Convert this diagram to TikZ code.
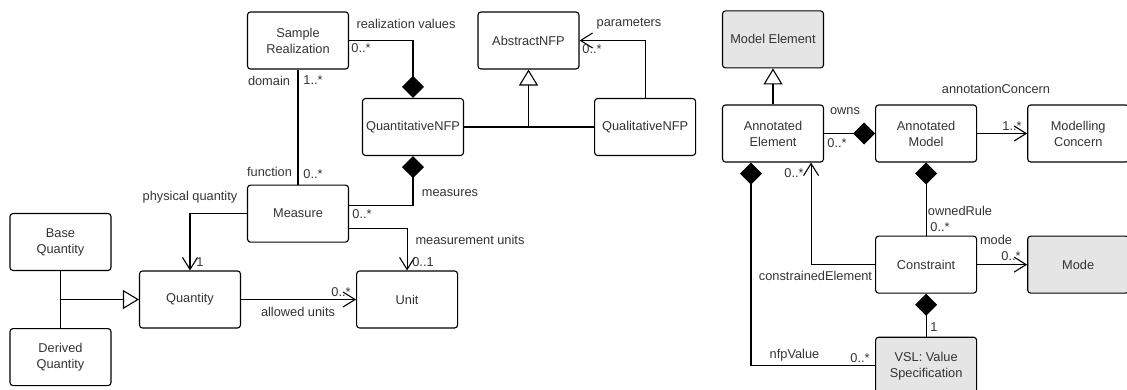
\documentclass[tikz,border=0pt]{standalone}
\usepackage{fontspec}
\setmainfont{Liberation Sans}
\usetikzlibrary{
	positioning,
	arrows.meta
}

\begin{document}
\begin{tikzpicture}[
			x=1pt, y=-1pt,
			line width=1.1pt,
			font=\fontsize{12.8pt}{16pt}\selectfont,
			cls/.style={
				draw,
				rounded corners=3pt,
				minimum width=101pt,
				minimum height=57pt,
				inner sep=2pt,
				text=black!80,
				align=center
			},
			ext/.style={cls, fill=black!10},
			lbl/.style={inner sep=0pt, text=black!80},
			compo/.style={{Diamond[length=22pt,width=22pt]}-},
			assoc/.style={-{Straight Barb[length=12pt,width=15pt]}},
			inherit/.style={-{Triangle[length=16pt,width=19pt,fill=white]}}
			]
			
			\useasboundingbox (0,0) rectangle (1127,389);
			
			% NFP side
			\node[cls] at (298,40.5) (sample) {Sample\\Realization};
			\node[cls,below=115pt of sample] (measure) {Measure};
			\node[cls] at (528.5,40.5) (abstract) {AbstractNFP};
			\node[cls] at (413,127) (quanti) {QuantitativeNFP};
			\node[cls,right=130pt of quanti] (quali) {QualitativeNFP};
			\node[cls] at (190,299.5) (quantity) {Quantity};
			\node[cls,right=115pt of quantity] (unit) {Unit};
			\node[cls] at (60.5,242) (base) {Base\\Quantity};
			\node[cls,below=57pt of base] (derived) {Derived\\Quantity};
			
			% annotation side
			\node[cls] at (773,133.5) (annelem) {Annotated\\Element};
			\node[ext,above=36pt of annelem] (modelem) {Model Element};
			\node[cls,right=51pt of annelem] (annmodel) {Annotated\\Model};
			\node[cls,right=50pt of annmodel] (concern) {Modelling\\Concern};
			\node[cls,below=73pt of annmodel] (constr) {Constraint};
			\node[ext,right=50pt of constr] (mode) {Mode};
			\node[ext,below=43pt of constr] (vsl) {VSL: Value\\Specification};
			
			\draw[compo] (quanti.north) |- (sample.east);
			\draw (sample.south) -- (measure.north);
			\draw[compo] (quanti.south) |- ([yshift=8pt]measure.east);
			\draw[assoc] (measure.west) -| (quantity.north);
			\draw[assoc] ([yshift=-15pt]measure.east) -| (unit.north);
			\draw[assoc] (quantity) -- (unit);
			\draw (derived.north) |- ([xshift=-16pt]quantity.west);
			\draw[inherit] (base.south) |- (quantity.west);
			\draw (quali.west) -| ([yshift=-16pt]abstract.south);
			\draw[inherit] (quanti.east) -| (abstract.south);
			\draw[assoc] (quali.north) |- (abstract.east);
			
			\draw[inherit] (annelem) -- (modelem);
			\draw[compo] (annmodel) -- (annelem);
			\draw[assoc] (annmodel) -- (concern);
			\draw[compo] (annmodel) -- (constr);
			\draw[assoc] (constr.west) -| ([xshift=-13pt]annelem.south east);
			\draw[assoc] (constr) -- (mode);
			\draw[compo] (constr) -- (vsl);
			\draw[compo] ([xshift=29pt]annelem.south west) |- (vsl.west);
			
			% role names and multiplicities
			\node[lbl] at (406,24) (rv) {realization values};
			\node[lbl] at (361,48) (rvm) {0..*};
			\node[lbl] at (269,81) (dom) {domain};
			\node[lbl] at (313,80) (domm) {1..*};
			\node[lbl] at (269.5,172) (fun) {function};
			\node[lbl] at (313,174) (funm) {0..*};
			\node[lbl] at (190,197) (phys) {physical quantity};
			\node[lbl] at (200,262) (physm) {1};
			\node[lbl] at (450,193) (meas) {measures};
			\node[lbl] at (362,214) (measm) {0..*};
			\node[lbl] at (470,240) (mu) {measurement units};
			\node[lbl] at (423,262) (mum) {0..1};
			\node[lbl] at (341,292) (aum) {0..*};
			\node[lbl] at (298,312) (au) {allowed units};
			\node[lbl] at (629,24) (par) {parameters};
			\node[lbl] at (592,49) (parm) {0..*};
			
			\node[lbl] at (845,111) (owns) {owns};
			\node[lbl] at (837,143) (ownsm) {0..*};
			\node[lbl] at (996,89) (ac) {annotationConcern};
			\node[lbl] at (1012,126) (acm) {1..*};
			\node[lbl] at (960,211) (rule) {ownedRule};
			\node[lbl] at (940,227) (rulem) {0..*};
			\node[lbl] at (794,173) (cem) {0..*};
			\node[lbl] at (815.5,276) (ce) {constrainedElement};
			\node[lbl] at (996,240) (md) {mode};
			\node[lbl] at (1011,256) (mdm) {0..*};
			\node[lbl] at (934,327) (one) {1};
			\node[lbl] at (794.5,355) (nfp) {nfpValue};
			\node[lbl] at (860,358) (nfpm) {0..*};
			
		\end{tikzpicture}
\end{document}
